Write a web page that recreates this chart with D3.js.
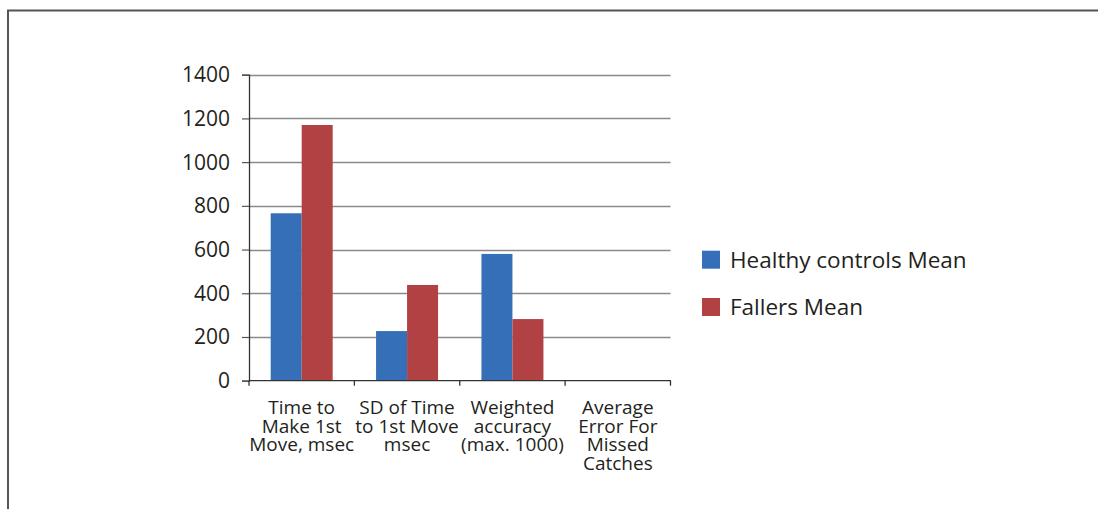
<!DOCTYPE html>
<html>
<head>
<meta charset="utf-8">
<script src="https://cdn.jsdelivr.net/npm/d3@7"></script>
<style>
  html, body { margin: 0; padding: 0; background: #fff; }
  svg { display: block; }
  text { font-family: "Open Sans", "Noto Sans", sans-serif; fill: #231f20; }
</style>
</head>
<body>
<svg id="chart" width="1098" height="509"></svg>
<script>
// Category labels (each entry is a list of wrapped lines)
const categories = [
  ["Time to", "Make 1st", "Move, msec"],
  ["SD of Time", "to 1st Move", "msec"],
  ["Weighted", "accuracy", "(max. 1000)"],
  ["Average", "Error For", "Missed", "Catches"]
];
const categoryKeys = ["c1", "c2", "c3", "c4"];

// Series
const seriesNames = ["Healthy controls Mean", "Fallers Mean"];
const healthyValues = [766, 227, 580, 0];
const fallersValues = [1170, 438, 282, 0];
const seriesColors = ["#346fb8", "#b14143"];

// Y axis ticks
const yTicks = [0, 200, 400, 600, 800, 1000, 1200, 1400];

const svg = d3.select("#chart");

// Frame lines along top and left edge
svg.append("line").attr("x1", 7).attr("x2", 1098).attr("y1", 10.5).attr("y2", 10.5)
  .attr("stroke", "#555").attr("stroke-width", 2);
svg.append("line").attr("x1", 8).attr("x2", 8).attr("y1", 10).attr("y2", 509)
  .attr("stroke", "#555").attr("stroke-width", 2);

const plot = { left: 249, right: 670.5, top: 74.7, bottom: 380.7 };

const x0 = d3.scaleBand().domain(categoryKeys).range([plot.left, plot.right]).padding(0);
const x1 = d3.scaleBand().domain(seriesNames).range([0, x0.bandwidth()])
  .paddingInner(0).paddingOuter(0.7);
const y = d3.scaleLinear().domain([0, 1400]).range([plot.bottom, plot.top]);

// Horizontal gridlines
const g = svg.append("g");
g.selectAll("line.grid").data(yTicks.filter(d => d > 0)).join("line")
  .attr("class", "grid")
  .attr("x1", plot.left).attr("x2", plot.right)
  .attr("y1", d => Math.round(y(d)) + 0.5).attr("y2", d => Math.round(y(d)) + 0.5)
  .attr("stroke", "#8a8a8a").attr("stroke-width", 1.3);

// Bars
const seriesData = [healthyValues, fallersValues];
categoryKeys.forEach((k, i) => {
  seriesNames.forEach((s, j) => {
    const v = seriesData[j][i];
    if (v <= 0) return;
    g.append("rect")
      .attr("x", x0(k) + x1(s))
      .attr("y", y(v))
      .attr("width", x1.bandwidth())
      .attr("height", y(0) - y(v))
      .attr("fill", seriesColors[j]);
  });
});

// Y axis
const yAxis = d3.axisLeft(y).tickValues(yTicks).tickSize(7).tickPadding(12)
  .tickFormat(d3.format("d"));
const ya = svg.append("g").attr("transform", `translate(${plot.left},0)`).call(yAxis);
ya.select(".domain").attr("stroke", "#333").attr("stroke-width", 1.3);
ya.selectAll(".tick line").attr("stroke", "#555").attr("stroke-width", 1.2);
ya.selectAll(".tick text").attr("font-size", 21).attr("fill", "#231f20")
  .attr("font-family", "Open Sans").attr("dy", "0.33em");

// X axis baseline with ticks at category boundaries
const xa = svg.append("g");
xa.append("line").attr("x1", plot.left).attr("x2", plot.right + 0.5)
  .attr("y1", plot.bottom).attr("y2", plot.bottom)
  .attr("stroke", "#333").attr("stroke-width", 1.3);
const bounds = categoryKeys.map(k => x0(k)).concat([x0(categoryKeys[categoryKeys.length - 1]) + x0.bandwidth()]);
xa.selectAll("line.t").data(bounds).join("line").attr("class", "t")
  .attr("x1", d => d).attr("x2", d => d)
  .attr("y1", plot.bottom).attr("y2", plot.bottom + 5)
  .attr("stroke", "#333").attr("stroke-width", 1.3);

// Category labels
categoryKeys.forEach((k, i) => {
  const t = xa.append("text")
    .attr("text-anchor", "middle")
    .attr("font-size", 19);
  categories[i].forEach((line, li) => {
    t.append("tspan")
      .attr("x", x0(k) + x0.bandwidth() / 2)
      .attr("y", 414.3 + li * 18.4)
      .text(line);
  });
});

// Legend
const legend = svg.append("g");
const legendY = [250.7, 298];
seriesNames.forEach((s, j) => {
  legend.append("rect").attr("x", 702).attr("y", legendY[j])
    .attr("width", 18).attr("height", 18).attr("fill", seriesColors[j]);
  legend.append("text").attr("x", 730).attr("y", legendY[j] + 17.3)
    .attr("font-size", 22.5).text(s);
});
</script>
</body>
</html>
